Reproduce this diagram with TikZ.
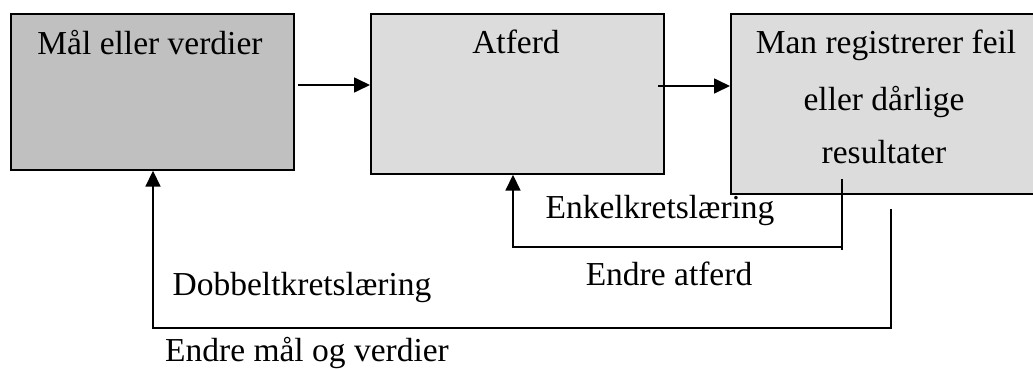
\documentclass[tikz,border=0pt]{standalone}
\usepackage{fontspec}
\setmainfont{Liberation Serif}
\usetikzlibrary{arrows.meta}
\definecolor{darkbox}{RGB}{192,192,192}
\definecolor{lightbox}{RGB}{220,220,220}
\begin{document}
\begin{tikzpicture}[x=1pt,y=-1pt,
  every node/.style={font=\fontsize{33.5}{55}\selectfont},
  boxa/.style={draw=black,line width=1.7pt,fill=#1,rectangle,inner sep=0pt,anchor=north west},
  txt/.style={anchor=base,inner sep=0pt},
  conn/.style={draw=black,line width=1.7pt},
  arr/.style={conn,-{Triangle[length=16pt,width=15pt]}}]
\useasboundingbox (0,0) rectangle (1033,369);
% boxes
\node[boxa=darkbox,minimum width=283pt,minimum height=156pt] (b1) at (10,13) {};
\node[boxa=lightbox,minimum width=293pt,minimum height=160pt] (b2) at (370,13) {};
\node[boxa=lightbox,minimum width=303pt,minimum height=180pt] (b3) at (730,13) {};
% texts
\node[txt] (t1) at (150,55) {Mål eller verdier};
\node[txt] (t2) at (516,54) {Atferd};
\node[txt] (t3a) at (886,53) {Man registrerer feil};
\node[txt] (t3b) at (884,110) {eller dårlige};
\node[txt] (t3c) at (884,163) {resultater};
\node[txt] (l1) at (660,218) {Enkelkretslæring};
\node[txt] (l2) at (669,285) {Endre atferd};
\node[txt] (l3) at (302,295) {Dobbeltkretslæring};
\node[txt] (l4) at (307,361) {Endre mål og verdier};
% forward arrows
\coordinate (a1s) at (298,85);
\coordinate (a2s) at (658,86);
\draw[arr] (a1s) -- (b2.west |- a1s);
\draw[arr] (a2s) -- (b3.west |- a2s);
% single loop
\coordinate (s1) at (842,179);
\coordinate (s2) at (842,250);
\coordinate (s3) at (842,247);
\coordinate (s4) at (513,247);
\draw[conn] (s1) -- (s2);
\draw[arr] (s3) -- (s4) -- (b2.south -| s4);
% double loop
\coordinate (d1) at (891,209);
\coordinate (d2) at (891,328);
\coordinate (d3) at (153,328);
\draw[arr] (d1) -- (d2) -- (d3) -- (b1.south -| d3);
\end{tikzpicture}
\end{document}
